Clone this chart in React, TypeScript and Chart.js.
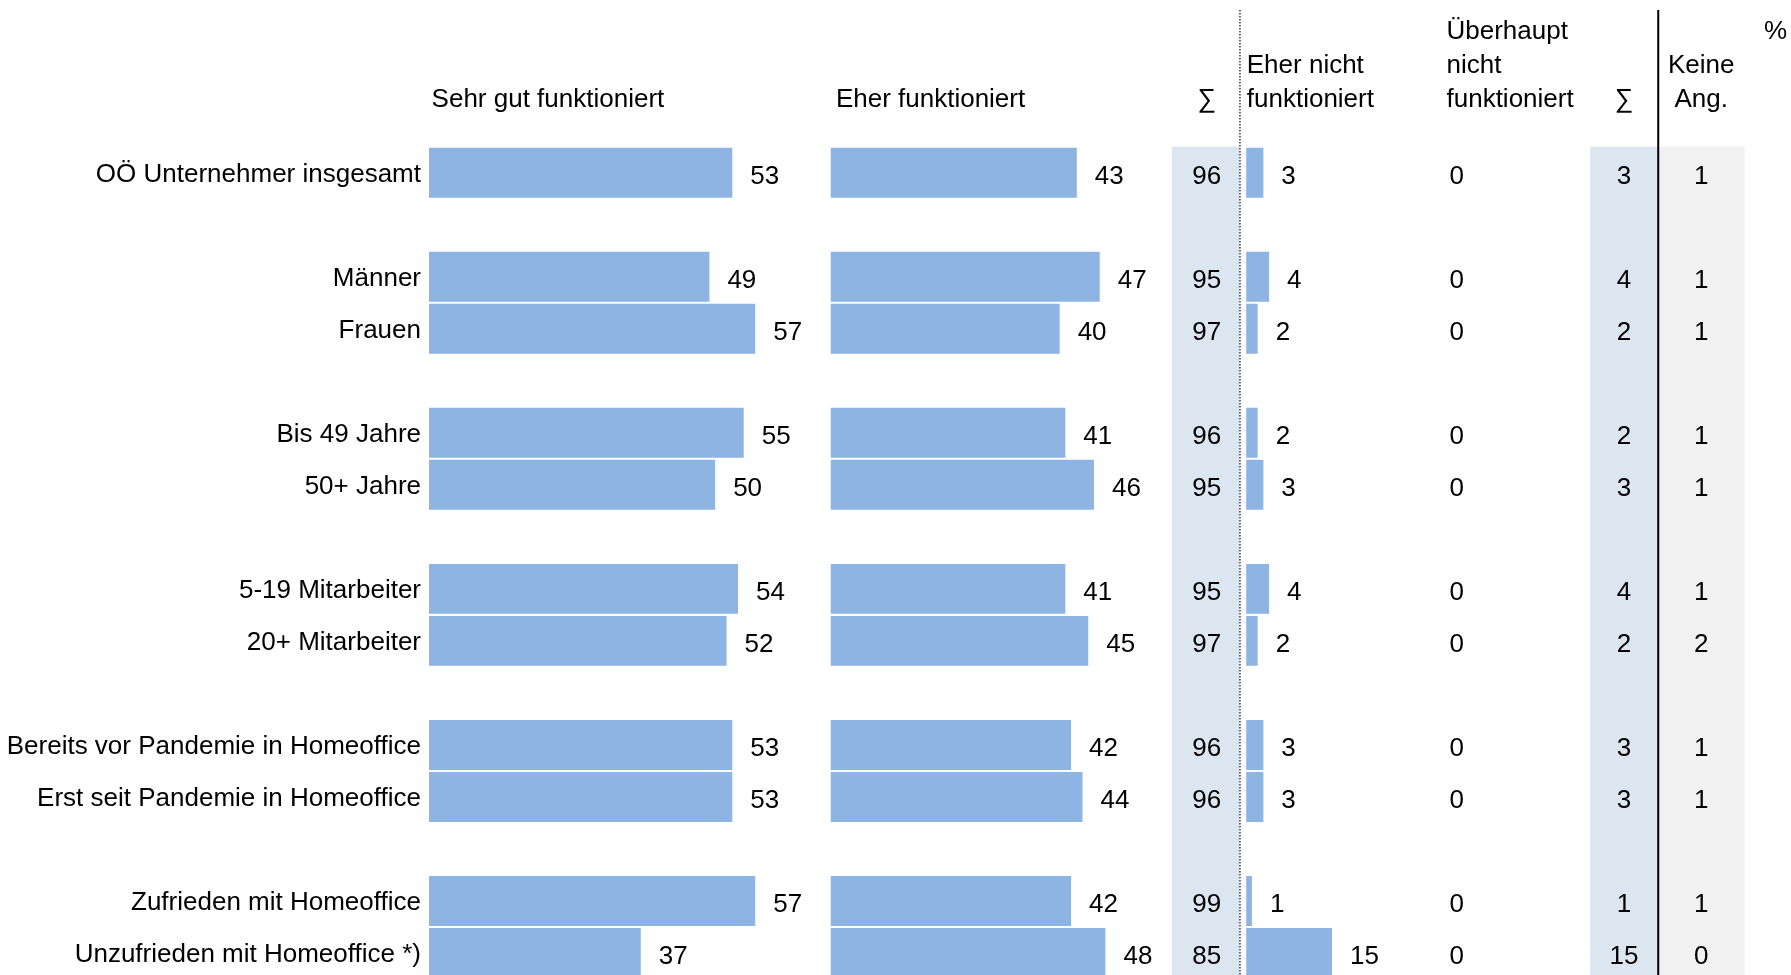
import React, { useEffect, useRef } from "react";
import { Chart, registerables } from "chart.js";

Chart.register(...registerables);

// ---------- data ----------
const categories = [
  "OÖ Unternehmer insgesamt",
  "Männer",
  "Frauen",
  "Bis 49 Jahre",
  "50+ Jahre",
  "5-19 Mitarbeiter",
  "20+ Mitarbeiter",
  "Bereits vor Pandemie in Homeoffice",
  "Erst seit Pandemie in Homeoffice",
  "Zufrieden mit Homeoffice",
  "Unzufrieden mit Homeoffice *)",
];
const gapBefore = [false, true, false, true, false, true, false, true, false, true, false];

const sehrGut = [53, 49, 57, 55, 50, 54, 52, 53, 53, 57, 37];
const eherFunktioniert = [43, 47, 40, 41, 46, 41, 45, 42, 44, 42, 48];
const summePositiv = [96, 95, 97, 96, 95, 95, 97, 96, 96, 99, 85];
const eherNicht = [3, 4, 2, 2, 3, 4, 2, 3, 3, 1, 15];
const ueberhauptNicht = [0, 0, 0, 0, 0, 0, 0, 0, 0, 0, 0];
const summeNegativ = [3, 4, 2, 2, 3, 4, 2, 3, 3, 1, 15];
const keineAngabe = [1, 1, 1, 1, 1, 1, 2, 1, 1, 1, 0];

const headerSehrGut = ["Sehr gut funktioniert"];
const headerEher = ["Eher funktioniert"];
const headerEherNicht = ["Eher nicht", "funktioniert"];
const headerUeberhaupt = ["Überhaupt", "nicht", "funktioniert"];
const headerKeine = ["Keine", "Ang."];
const sigma = "∑";
const percentSign = "%";

// ---------- layout (x in axis units) ----------
const XMAX = 238;
const COL1_OFF = 0;
const COL2_OFF = 70.2;
const COL3_OFF = 142.8;
const SUM1 = { from: 129.8, to: 141.6, center: 135.9 };
const DOT_LINE = 141.7;
const COL4_CENTER = 179.6;
const SUM2 = { from: 202.9, to: 214.7, center: 208.8 };
const SOLID_LINE = 214.8;
const KEINE = { from: 214.9, to: 229.9, center: 222.3 };
const HEAD_X = { sehr: 0.45, eher: 71.1, eherNicht: 142.9, ueber: 177.8, pct: 233.3 };
const HEAD_BASELINES = [38.5, 72.5, 106.5];

const BAR_COLOR = "#8EB4E3";
const SUM_SHADE = "#DCE6F1";
const KEINE_SHADE = "#F1F1F1";
const FONT = '26px "Liberation Sans", Arial, sans-serif';

export default function App() {
  const ref = useRef<HTMLCanvasElement>(null);

  useEffect(() => {
    if (!ref.current) return;
    const slotLabels: string[] = [];
    const slotOf: number[] = [];
    categories.forEach((c, i) => {
      if (gapBefore[i]) slotLabels.push("");
      slotOf.push(slotLabels.length);
      slotLabels.push(c);
    });
    const mk = (vals: number[], off: number) => {
      const arr: any[] = slotLabels.map(() => null);
      vals.forEach((v, i) => (arr[slotOf[i]] = [off, off + v]));
      return arr;
    };

    const overlay = {
      id: "overlay",
      beforeDatasetsDraw(chart: any) {
        const { ctx, chartArea, scales } = chart;
        const xs = scales.x;
        ctx.save();
        const shade = (r: { from: number; to: number }, color: string) => {
          const x0 = xs.getPixelForValue(r.from);
          const x1 = xs.getPixelForValue(r.to);
          ctx.fillStyle = color;
          ctx.fillRect(x0, chartArea.top, x1 - x0, chart.height - chartArea.top);
        };
        shade(SUM1, SUM_SHADE);
        shade(SUM2, SUM_SHADE);
        shade(KEINE, KEINE_SHADE);
        ctx.restore();
      },
      afterDatasetsDraw(chart: any) {
        const { ctx, scales } = chart;
        const xs = scales.x;
        const ys = scales.y;
        ctx.save();
        // lines
        const xd = xs.getPixelForValue(DOT_LINE);
        ctx.strokeStyle = "#666";
        ctx.lineWidth = 2;
        ctx.setLineDash([1.5, 1.5]);
        ctx.beginPath();
        ctx.moveTo(xd, 10);
        ctx.lineTo(xd, chart.height);
        ctx.stroke();
        ctx.setLineDash([]);
        const xl = xs.getPixelForValue(SOLID_LINE);
        ctx.strokeStyle = "#000";
        ctx.lineWidth = 2;
        ctx.beginPath();
        ctx.moveTo(xl, 10);
        ctx.lineTo(xl, chart.height);
        ctx.stroke();

        ctx.font = FONT;
        ctx.fillStyle = "#000";
        ctx.textBaseline = "alphabetic";
        // bar value labels
        const barCols: [number[], number][] = [
          [sehrGut, COL1_OFF],
          [eherFunktioniert, COL2_OFF],
          [eherNicht, COL3_OFF],
        ];
        ctx.textAlign = "left";
        barCols.forEach(([vals, off]) => {
          vals.forEach((v, i) => {
            const y = ys.getPixelForValue(slotOf[i]) + 11;
            ctx.fillText(String(v), xs.getPixelForValue(off + v) + 18, y);
          });
        });
        // centered columns
        ctx.textAlign = "center";
        const centerCols: [number[], number][] = [
          [summePositiv, SUM1.center],
          [ueberhauptNicht, COL4_CENTER],
          [summeNegativ, SUM2.center],
          [keineAngabe, KEINE.center],
        ];
        centerCols.forEach(([vals, cx]) => {
          vals.forEach((v, i) => {
            const y = ys.getPixelForValue(slotOf[i]) + 11;
            ctx.fillText(String(v), xs.getPixelForValue(cx), y);
          });
        });
        // headers
        const headLeft = (lines: string[], u: number) => {
          ctx.textAlign = "left";
          const start = HEAD_BASELINES.length - lines.length;
          lines.forEach((t, k) => ctx.fillText(t, xs.getPixelForValue(u), HEAD_BASELINES[start + k]));
        };
        const headCenter = (lines: string[], u: number) => {
          ctx.textAlign = "center";
          const start = HEAD_BASELINES.length - lines.length;
          lines.forEach((t, k) => ctx.fillText(t, xs.getPixelForValue(u), HEAD_BASELINES[start + k]));
        };
        headLeft(headerSehrGut, HEAD_X.sehr);
        headLeft(headerEher, HEAD_X.eher);
        headCenter([sigma], SUM1.center);
        headLeft(headerEherNicht, HEAD_X.eherNicht);
        headLeft(headerUeberhaupt, HEAD_X.ueber);
        headCenter([sigma], SUM2.center);
        headCenter(headerKeine, KEINE.center);
        ctx.textAlign = "left";
        ctx.fillText(percentSign, xs.getPixelForValue(HEAD_X.pct), HEAD_BASELINES[0]);
        ctx.restore();
      },
    };

    const ds = (data: any[]) => ({
      data,
      backgroundColor: BAR_COLOR,
      borderWidth: 0,
      barPercentage: 0.96,
      categoryPercentage: 1,
      grouped: false,
    });

    const chart = new Chart(ref.current, {
      type: "bar",
      data: {
        labels: slotLabels,
        datasets: [ds(mk(sehrGut, COL1_OFF)), ds(mk(eherFunktioniert, COL2_OFF)), ds(mk(eherNicht, COL3_OFF))],
      },
      options: {
        indexAxis: "y",
        animation: false,
        responsive: false,
        layout: { padding: { top: 146.7, left: 0, right: 0, bottom: 0 } },
        plugins: { legend: { display: false }, tooltip: { enabled: false } },
        scales: {
          x: { type: "linear", min: 0, max: XMAX, display: false },
          y: {
            type: "category",
            offset: true,
            grid: { display: false, drawTicks: false },
            border: { display: false },
            ticks: {
              color: "#000",
              padding: 8,
              labelOffset: 2,
              autoSkip: false,
              font: { family: '"Liberation Sans", Arial, sans-serif', size: 26 },
            },
            afterFit: (scale: any) => {
              scale.width = 429;
              scale.paddingTop = 0;
              scale.paddingBottom = 0;
            },
          },
        },
      },
      plugins: [overlay],
    } as any);
    return () => chart.destroy();
  }, []);

  return (
    <div
      style={{
        position: "fixed",
        left: 0,
        top: 0,
        width: 1791,
        height: 975,
        overflow: "hidden",
        background: "#fff",
      }}
    >
      <canvas ref={ref} width={1791} height={979} style={{ display: "block" }} />
    </div>
  );
}
